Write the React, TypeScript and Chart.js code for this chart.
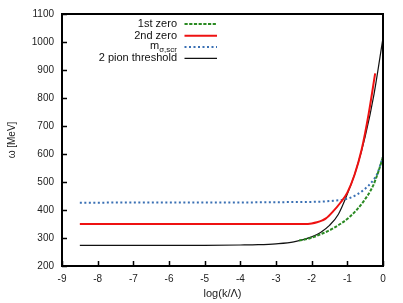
import React, { useEffect, useRef } from "react";
import { Chart, registerables } from "chart.js";

Chart.register(...registerables);

// Data
const thresholdX = [-8.5, -7, -6, -5, -4, -3.5, -3, -2.5, -2, -1.75, -1.5, -1.25, -1, -0.75, -0.5, -0.25, 0];
const thresholdY = [274, 274, 274, 274, 275, 276, 279, 286, 304, 320, 345, 385, 457, 545, 662, 815, 1015];

const secondZeroX = [-8.5, -6, -4, -3, -2.2, -2, -1.85, -1.7, -1.6, -1.4, -1.2, -1, -0.8, -0.6, -0.4, -0.22];
const secondZeroY = [350, 350, 350, 350, 350, 352, 356, 363, 370, 395, 425, 462, 525, 615, 745, 888];

const mSigmaX = [-8.5, -6, -4, -3, -2, -1.4, -0.93, -0.55, -0.27, -0.15, -0.08, 0];
const mSigmaY = [426, 427, 427, 428, 429, 433, 443, 471, 507, 532, 560, 590];

const firstZeroX = [-2.35, -2.05, -1.7, -1.39, -0.93, -0.55, -0.27, -0.13, 0];
const firstZeroY = [291, 299, 316, 335, 376, 430, 489, 537, 590];

const xTicks = [-9, -8, -7, -6, -5, -4, -3, -2, -1, 0];
const yTicks = [200, 300, 400, 500, 600, 700, 800, 900, 1000, 1100];

const legendLabels = ["1st zero", "2nd zero", "m", "2 pion threshold"];

const FONT = "'Liberation Sans', Arial, Helvetica, sans-serif";

const pts = (xs: number[], ys: number[]) => xs.map((x, i) => ({ x, y: ys[i] }));

const framePlugin = {
  id: "frame",
  afterDatasetsDraw(chart: any) {
    const { ctx, chartArea } = chart;
    const { left, right, top, bottom } = chartArea;
    const xs = chart.scales.x;
    const ys = chart.scales.y;
    ctx.save();
    ctx.strokeStyle = "#000";
    ctx.lineWidth = 1.5;
    // ticks
    ctx.beginPath();
    xTicks.forEach((t) => {
      const px = Math.round(xs.getPixelForValue(t)) + 0.5;
      ctx.moveTo(px, bottom);
      ctx.lineTo(px, bottom - 5);
    });
    yTicks.forEach((t) => {
      const py = Math.round(ys.getPixelForValue(t)) + 0.5;
      ctx.moveTo(left, py);
      ctx.lineTo(left + 5, py);
    });
    ctx.stroke();
    // frame
    ctx.lineWidth = 2;
    ctx.strokeRect(left, top, right - left, bottom - top);

    // legend
    const datasets = chart.data.datasets;
    const rowY = [24, 35.7, 47, 58.3];
    const textRight = 177;
    const sx0 = 184.5;
    const sx1 = 217;
    ctx.font = `11px ${FONT}`;
    ctx.fillStyle = "#111";
    ctx.textBaseline = "middle";
    datasets.forEach((ds: any, i: number) => {
      const y = rowY[i];
      ctx.textAlign = "right";
      if (i === 2) {
        ctx.font = `8px ${FONT}`;
        const sub = "σ,scr";
        ctx.fillText(sub, textRight, y + 3);
        const w = ctx.measureText(sub).width;
        ctx.font = `11px ${FONT}`;
        ctx.fillText(legendLabels[i], textRight - w, y - 1);
      } else {
        ctx.fillText(legendLabels[i], textRight, y);
      }
      ctx.beginPath();
      ctx.strokeStyle = ds.borderColor;
      ctx.lineWidth = ds.borderWidth;
      ctx.setLineDash(ds.borderDash || []);
      ctx.moveTo(sx0, y);
      ctx.lineTo(sx1, y);
      ctx.stroke();
      ctx.setLineDash([]);
    });
    ctx.restore();
  },
};

export default function App() {
  const ref = useRef<HTMLCanvasElement | null>(null);
  useEffect(() => {
    if (!ref.current) return;
    const chart = new Chart(ref.current, {
      type: "line",
      data: {
        datasets: [
          {
            label: "1st zero",
            data: pts(firstZeroX, firstZeroY),
            borderColor: "#2a8a22",
            borderWidth: 2,
            borderDash: [3.2, 1.5],
            pointRadius: 0,
            cubicInterpolationMode: "monotone",
          },
          {
            label: "2nd zero",
            data: pts(secondZeroX, secondZeroY),
            borderColor: "#ee1111",
            borderWidth: 2,
            pointRadius: 0,
            cubicInterpolationMode: "monotone",
          },
          {
            label: "m σ,scr",
            data: pts(mSigmaX, mSigmaY),
            borderColor: "#3a70b4",
            borderWidth: 2,
            borderDash: [2, 2.5],
            pointRadius: 0,
            cubicInterpolationMode: "monotone",
          },
          {
            label: "2 pion threshold",
            data: pts(thresholdX, thresholdY),
            borderColor: "#111",
            borderWidth: 1.2,
            pointRadius: 0,
            cubicInterpolationMode: "monotone",
          },
        ],
      },
      options: {
        animation: false,
        responsive: false,
        layout: { padding: { left: 0, top: 14, right: 20, bottom: 0 } },
        plugins: { legend: { display: false }, tooltip: { enabled: false } },
        scales: {
          x: {
            type: "linear",
            min: -9,
            max: 0,
            grid: { display: false, drawTicks: false },
            border: { display: false },
            afterBuildTicks: (s: any) => {
              s.ticks = xTicks.map((v) => ({ value: v }));
            },
            afterFit: (s: any) => {
              s.height = 37;
            },
            ticks: {
              padding: 7,
              color: "#222",
              font: { family: FONT, size: 10 },
              maxRotation: 0,
              autoSkip: false,
              callback: (v: any) => String(v),
            },
            title: {
              display: true,
              text: "log(k/Λ)",
              color: "#222",
              font: { family: FONT, size: 11 },
              padding: { top: 0, bottom: 2 },
            },
          },
          y: {
            type: "linear",
            min: 200,
            max: 1100,
            grid: { display: false, drawTicks: false },
            border: { display: false },
            afterBuildTicks: (s: any) => {
              s.ticks = yTicks.map((v) => ({ value: v }));
            },
            afterFit: (s: any) => {
              s.width = 62;
            },
            ticks: {
              padding: 8,
              color: "#222",
              font: { family: FONT, size: 10 },
              autoSkip: false,
              callback: (v: any) => String(v),
            },
            title: {
              display: true,
              text: "ω [MeV]",
              color: "#222",
              font: { family: FONT, size: 10 },
              padding: { top: 6, bottom: 0 },
            },
          },
        },
      },
      plugins: [framePlugin],
    } as any);
    return () => chart.destroy();
  }, []);
  return (
    <div style={{ position: "fixed", left: 0, top: 0, width: 403, height: 303, background: "#fff" }}>
      <canvas ref={ref} width={403} height={303} style={{ width: 403, height: 303 }} />
    </div>
  );
}
